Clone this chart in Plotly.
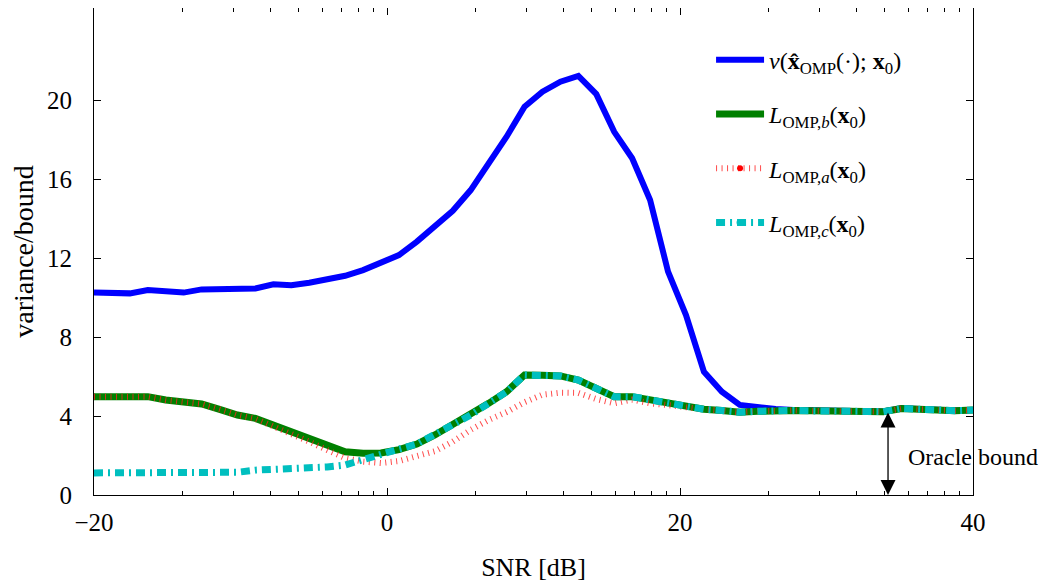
import numpy as np
import plotly.graph_objects as go

# SNR grid (dB): 50 equally spaced samples from -20 to 40
snr = np.linspace(-20, 40, 50)

v_omp = [10.26, 10.26, 10.21, 10.38, 10.29, 10.25, 10.41, 10.41, 10.41, 10.46,
         10.67, 10.62, 10.75, 10.94, 11.10, 11.39, 11.80, 12.15, 12.83, 13.58,
         14.39, 15.44, 16.79, 18.14, 19.66, 20.42, 20.93, 21.22, 20.30, 18.39,
         17.05, 14.94, 11.31, 9.11, 6.24, 5.23, 4.56, 4.42, 4.35, 4.30,
         4.28, 4.26, 4.24, 4.21, 4.23, 4.39, 4.34, 4.28, 4.28, 4.31]

L_b = [4.98, 4.96, 4.93, 4.98, 4.81, 4.69, 4.61, 4.34, 4.05, 3.88,
       3.54, 3.20, 2.82, 2.48, 2.19, 2.12, 2.13, 2.30, 2.58, 3.04,
       3.54, 4.05, 4.64, 5.23, 6.08, 6.06, 6.03, 5.82, 5.40, 4.98,
       4.98, 4.81, 4.65, 4.47, 4.34, 4.28, 4.19, 4.24, 4.28, 4.28,
       4.26, 4.24, 4.22, 4.19, 4.22, 4.38, 4.33, 4.27, 4.27, 4.30]

L_a = [4.98, 4.96, 4.93, 4.98, 4.81, 4.69, 4.61, 4.34, 4.05, 3.86,
       3.50, 3.12, 2.70, 2.28, 1.87, 1.69, 1.62, 1.72, 1.94, 2.22,
       2.70, 3.30, 3.80, 4.20, 4.70, 5.08, 5.18, 5.17, 4.86, 4.64,
       4.83, 4.64, 4.55, 4.43, 4.34, 4.28, 4.19, 4.24, 4.28, 4.28,
       4.26, 4.24, 4.22, 4.19, 4.22, 4.38, 4.33, 4.27, 4.27, 4.30]

L_c = [1.12, 1.12, 1.12, 1.12, 1.14, 1.17, 1.18, 1.17, 1.15, 1.26,
       1.29, 1.34, 1.38, 1.42, 1.52, 1.76, 2.02, 2.33, 2.58, 3.04,
       3.54, 4.05, 4.64, 5.23, 6.08, 6.06, 6.03, 5.82, 5.40, 4.98,
       4.98, 4.81, 4.65, 4.47, 4.34, 4.28, 4.19, 4.24, 4.28, 4.28,
       4.26, 4.24, 4.22, 4.19, 4.22, 4.38, 4.33, 4.27, 4.27, 4.30]

names = [
    "<i>v</i>(<b>x\u0302</b><sub>OMP</sub>(·); <b>x</b><sub>0</sub>)",
    "<i>L</i><sub>OMP,<i>b</i></sub>(<b>x</b><sub>0</sub>)",
    "<i>L</i><sub>OMP,<i>a</i></sub>(<b>x</b><sub>0</sub>)",
    "<i>L</i><sub>OMP,<i>c</i></sub>(<b>x</b><sub>0</sub>)",
]

x_major = [-20, 0, 20, 40]
y_major = [0, 4, 8, 12, 16, 20]
x_minor = [d + 20 * np.log10(k) for d in (-20, 0, 20) for k in range(2, 10)]

oracle_x = 34.2
oracle_top = 4.25

FONT = "Liberation Serif"
BLUE = "#0000ff"
GREEN = "#008000"
RED = "rgba(255,30,30,0.8)"
CYAN = "#00bfbf"

styles = [
    dict(line=dict(color=BLUE, width=6), mode="lines"),
    dict(line=dict(color=GREEN, width=7), mode="lines"),
    dict(line=dict(color=RED, width=6, dash="1px,4.5px"), mode="lines"),
    dict(line=dict(color=CYAN, width=7, dash="9px,5px,2px,5px"), mode="lines"),
]
legend_markers = [None, None, dict(color="red", size=6), dict(color=CYAN, size=7)]

fig = go.Figure()
for yv, st in zip([v_omp, L_b, L_a, L_c], styles):
    fig.add_trace(go.Scatter(x=snr, y=yv, showlegend=False, hoverinfo="skip", **st))

for i, (nm, st, mk) in enumerate(zip(names, styles, legend_markers)):
    tr = dict(x=[None], y=[None], name=nm, legendgroup=f"g{i}", line=st["line"])
    if mk is not None:
        tr["mode"] = "lines+markers"
        tr["marker"] = mk
    else:
        tr["mode"] = "lines"
    fig.add_trace(go.Scatter(**tr))

fig.add_annotation(x=oracle_x, y=0, ax=oracle_x, ay=oracle_top, xref="x", yref="y",
                   axref="x", ayref="y", text="", showarrow=True, arrowhead=2,
                   arrowside="end+start", arrowsize=2.3, arrowwidth=1.3,
                   arrowcolor="black", standoff=0, startstandoff=0)
fig.add_annotation(x=35.4, y=1.92, xref="x", yref="y", text="Oracle bound",
                   showarrow=False, xanchor="left", yanchor="middle",
                   font=dict(family=FONT, size=24, color="black"))

axis_common = dict(showline=True, linecolor="black", linewidth=1.2, mirror="ticks",
                   ticks="inside", ticklen=7, tickcolor="black", tickwidth=1,
                   showgrid=False, zeroline=False,
                   tickfont=dict(family=FONT, size=25, color="black"))

fig.update_xaxes(range=[-20, 40], tickmode="array", tickvals=x_major,
                 ticklabelstandoff=5,
                 minor=dict(tickmode="array", tickvals=x_minor, ticks="inside",
                            ticklen=4, tickcolor="black", tickwidth=0.8),
                 title=dict(text="SNR [dB]", font=dict(family=FONT, size=26, color="black"),
                            standoff=22),
                 **axis_common)
fig.update_yaxes(range=[0, 24.66], tickmode="array", tickvals=y_major,
                 ticklabelstandoff=16,
                 title=dict(text="variance/bound", font=dict(family=FONT, size=28, color="black"),
                            standoff=12),
                 **axis_common)

fig.update_layout(
    width=1050, height=586,
    margin=dict(l=86, r=85, t=0, b=99, autoexpand=False),
    plot_bgcolor="white", paper_bgcolor="white",
    font=dict(family=FONT, size=24, color="black"),
    legend=dict(x=0.702, y=0.939, xanchor="left", yanchor="top",
                bgcolor="rgba(0,0,0,0)", borderwidth=0,
                font=dict(family=FONT, size=24, color="black"),
                tracegroupgap=20, itemwidth=48),
)

fig.write_html("out.html")
